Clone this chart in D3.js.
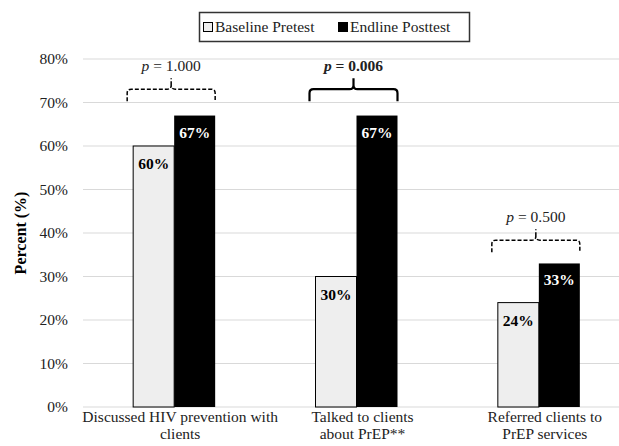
<!DOCTYPE html>
<html>
<head>
<meta charset="utf-8">
<script src="https://cdn.jsdelivr.net/npm/d3@7"></script>
<style>
  body { margin: 0; background: #fff; }
  svg text { font-family: "Times New Roman", "Liberation Serif", Tinos, Times, serif; }
</style>
</head>
<body>
<svg width="619" height="446"></svg>
<script>
// Chart data
const categories = [
    ["Discussed HIV prevention with", "clients"],
    ["Talked to clients", "about PrEP**"],
    ["Referred clients to", "PrEP services"]
];
const seriesNames = ["Baseline Pretest", "Endline Posttest"];
const pretest = [60, 30, 24];
const posttest = [67, 67, 33];
const pValues = ["1.000", "0.006", "0.500"];
const significant = [false, true, false];
const bracketLevels = [70.3, 70.3, 35.6];
const yTicks = [0, 10, 20, 30, 40, 50, 60, 70, 80];

function init() {
    const svg = d3.select("svg");
    const width = 619;
    const serif = "'Times New Roman', 'Liberation Serif', Tinos, Times, serif";

    const x = d3.scaleBand()
        .domain(d3.range(categories.length))
        .range([83, 630])
        .paddingInner(0)
        .paddingOuter(0);

    const y = d3.scaleLinear()
        .domain([0, 80])
        .range([407, 59]);

    const barW = 41;

    // Gridlines
    svg.append("g")
        .selectAll("line")
        .data(yTicks)
        .join("line")
        .attr("x1", 83)
        .attr("x2", width)
        .attr("y1", d => y(d))
        .attr("y2", d => y(d))
        .attr("stroke", "#d9d9d9")
        .attr("stroke-width", 1);

    // Y axis labels
    const yAxis = d3.axisLeft(y)
        .tickValues(yTicks)
        .tickFormat(d => d + "%")
        .tickSize(0)
        .tickPadding(15);
    const yg = svg.append("g")
        .attr("transform", "translate(83,0)")
        .call(yAxis);
    yg.attr("font-family", serif);
    yg.select(".domain").remove();
    yg.selectAll("text")
        .attr("font-size", 15.5)
        .attr("fill", "#222");

    // Axis title
    svg.append("text")
        .attr("transform", `translate(26,${y(40)}) rotate(-90)`)
        .attr("text-anchor", "middle")
        .attr("font-size", 16)
        .attr("font-weight", "bold")
        .text("Percent (%)");

    const center = i => x(i) + x.bandwidth() / 2;

    // Bars
    const groups = svg.append("g")
        .selectAll("g")
        .data(d3.range(categories.length))
        .join("g");

    groups.append("rect")
        .attr("x", i => center(i) - barW)
        .attr("y", i => y(pretest[i]))
        .attr("width", barW)
        .attr("height", i => y(0) - y(pretest[i]))
        .attr("fill", "#eeeeee")
        .attr("stroke", "#000")
        .attr("stroke-width", 1);

    groups.append("rect")
        .attr("x", i => center(i))
        .attr("y", i => y(posttest[i]))
        .attr("width", barW)
        .attr("height", i => y(0) - y(posttest[i]))
        .attr("fill", "#000");

    // Value labels
    groups.append("text")
        .attr("x", i => center(i) - barW / 2)
        .attr("y", i => y(pretest[i]) + 23)
        .attr("text-anchor", "middle")
        .attr("font-size", 15.5)
        .attr("font-weight", "bold")
        .attr("fill", "#000")
        .text(i => pretest[i] + "%");

    groups.append("text")
        .attr("x", i => center(i) + barW / 2)
        .attr("y", i => y(posttest[i]) + 22)
        .attr("text-anchor", "middle")
        .attr("font-size", 15.5)
        .attr("font-weight", "bold")
        .attr("fill", "#fff")
        .text(i => posttest[i] + "%");

    // Brackets with p-values
    groups.each(function(i) {
        const g = d3.select(this);
        const x0 = center(i) - barW - 6;
        const x1 = center(i) + barW;
        const cx = (x0 + x1) / 2;
        const yb = y(bracketLevels[i]);
        const yt = yb - 12;
        const r = 4;
        const path = d3.path();
        path.moveTo(x0, yb);
        path.lineTo(x0, yt + r);
        path.quadraticCurveTo(x0, yt, x0 + r, yt);
        path.lineTo(cx - r, yt);
        path.quadraticCurveTo(cx, yt, cx, yt - r);
        path.quadraticCurveTo(cx, yt, cx + r, yt);
        path.lineTo(x1 - r, yt);
        path.quadraticCurveTo(x1, yt, x1, yt + r);
        path.lineTo(x1, yb);
        path.moveTo(cx, yt - r);
        path.lineTo(cx, yt - 11);
        g.append("path")
            .attr("d", path.toString())
            .attr("fill", "none")
            .attr("stroke", "#000")
            .attr("stroke-width", significant[i] ? 2.2 : 1.5)
            .attr("stroke-dasharray", significant[i] ? null : "4,2");

        const t = g.append("text")
            .attr("x", cx)
            .attr("y", yt - 18)
            .attr("text-anchor", "middle")
            .attr("font-size", 15.5)
            .attr("font-weight", significant[i] ? "bold" : "normal")
            .attr("fill", "#222");
        t.append("tspan").attr("font-style", "italic").text("p");
        t.append("tspan").text(" = " + pValues[i]);
    });

    // Category labels
    groups.each(function(i) {
        const t = d3.select(this).append("text")
            .attr("text-anchor", "middle")
            .attr("font-size", 15.5)
            .attr("fill", "#222");
        categories[i].forEach((line, k) => {
            t.append("tspan")
                .attr("x", center(i) + 6)
                .attr("y", 422 + k * 17)
                .text(line);
        });
    });

    // Legend
    const legend = svg.append("g");
    legend.append("rect")
        .attr("x", 199.5)
        .attr("y", 12.5)
        .attr("width", 270)
        .attr("height", 29)
        .attr("fill", "#fff")
        .attr("stroke", "#333")
        .attr("stroke-width", 1.5);
    const legendX = [203, 338];
    const legendFill = ["#eeeeee", "#000"];
    seriesNames.forEach((name, k) => {
        legend.append("rect")
            .attr("x", legendX[k] + 0.5)
            .attr("y", 22.5)
            .attr("width", 9)
            .attr("height", 9)
            .attr("fill", legendFill[k])
            .attr("stroke", "#000")
            .attr("stroke-width", 1);
        legend.append("text")
            .attr("x", legendX[k] + 12)
            .attr("y", 32)
            .attr("font-size", 15.5)
            .attr("fill", "#222")
            .text(name);
    });
}

init();
</script>
</body>
</html>
